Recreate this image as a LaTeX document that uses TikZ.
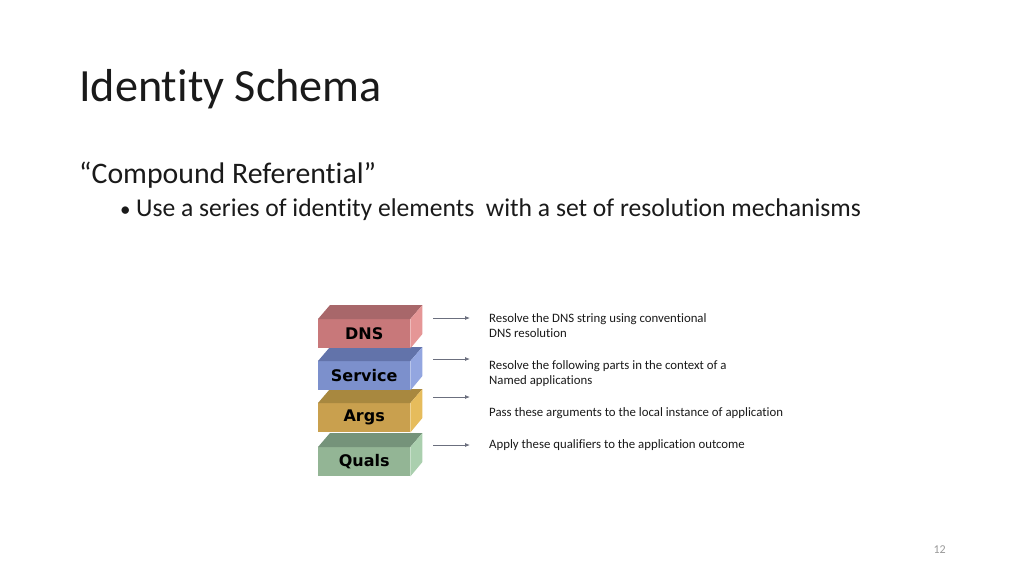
\documentclass[tikz,border=0pt]{standalone}
\usepackage{fontspec}
\setmainfont{Carlito}[Ligatures=NoCommon]
\newfontfamily\lblfont{DejaVu Sans}
\usetikzlibrary{arrows.meta,calc}
\definecolor{dnsF}{HTML}{C8787A}\definecolor{dnsT}{HTML}{A8676A}\definecolor{dnsR}{HTML}{E59696}
\definecolor{srvF}{HTML}{7C90CC}\definecolor{srvT}{HTML}{6273AA}\definecolor{srvR}{HTML}{93A6E0}
\definecolor{argF}{HTML}{C9A04E}\definecolor{argT}{HTML}{A8883F}\definecolor{argR}{HTML}{E6BC5C}
\definecolor{quaF}{HTML}{93B595}\definecolor{quaT}{HTML}{75937A}\definecolor{quaR}{HTML}{AACFAE}
\definecolor{arrc}{HTML}{6B6F7E}
\definecolor{txt}{HTML}{1A1A1A}
\tikzset{
  front/.style={minimum width=92pt,minimum height=29pt,inner sep=0pt,anchor=north west,
    font=\lblfont\bfseries\fontsize{16}{18}\selectfont,text=black},
  desc/.style={anchor=base west,inner sep=0pt,font=\fontsize{12.8}{14}\selectfont,text=txt},
  arr/.style={draw=arrc,line width=0.8pt,-{Latex[length=5pt,width=4pt]}}
}
\newcommand{\blockfaces}[3]{%
  \fill[#2] (#1.north west) -- ++(12,-14) -- ($(#1.north east)+(12,-14)$) -- (#1.north east) -- cycle;
  \fill[#3] (#1.north east) -- ++(12,-14) -- ++(0,29) -- (#1.south east) -- cycle;
}
\begin{document}
\begin{tikzpicture}[x=1pt,y=-1pt]
\useasboundingbox[fill=white] (0,0) rectangle (1024,576);
\node[anchor=base west,inner sep=0pt,font=\fontsize{46.2}{52}\selectfont,text=txt] (title) at (79,101) {Identity Schema};
\node[anchor=base west,inner sep=0pt,font=\fontsize{29.8}{34}\selectfont,text=txt] (sub) at (79,183) {“Compound Referential”};
\node[anchor=base west,inner sep=0pt,font=\fontsize{21}{26}\selectfont,text=txt] (bdot) at (120,216) {\textbullet};
\node[anchor=base west,inner sep=0pt,font=\fontsize{25.6}{30}\selectfont,text=txt] (bul) at (136,216) {Use a series of identity elements\ \ with a set of resolution mechanisms};

% stack, bottom first
\node[front,fill=quaF] (quals) at (318,447) {Quals};
\blockfaces{quals}{quaT}{quaR}
\node[front,fill=argF] (args) at (318,403) {Args};
\blockfaces{args}{argT}{argR}
\node[front,fill=srvF] (service) at (318,361) {Service};
\blockfaces{service}{srvT}{srvR}
\node[front,fill=dnsF] (dns) at (318,319) {DNS};
\blockfaces{dns}{dnsT}{dnsR}

% descriptions
\node[desc] (d1a) at (489,322) {Resolve the DNS string using conventional};
\node[desc] (d1b) at (489,337) {DNS resolution};
\node[desc] (d2a) at (489,369) {Resolve the following parts in the context of a};
\node[desc] (d2b) at (489,384) {Named applications};
\node[desc] (d3) at (489,416) {Pass these arguments to the local instance of application};
\node[desc] (d4) at (489,448) {Apply these qualifiers to the application outcome};

% arrows
\coordinate (a1s) at (433,318); \coordinate (a1e) at (470,318);
\coordinate (a2s) at (433,359); \coordinate (a2e) at (470,359);
\coordinate (a3s) at (433,397); \coordinate (a3e) at (470,397);
\coordinate (a4s) at (433,445); \coordinate (a4e) at (470,445);
\draw[arr] (a1s) -- (a1e);
\draw[arr] (a2s) -- (a2e);
\draw[arr] (a3s) -- (a3e);
\draw[arr] (a4s) -- (a4e);

\node[anchor=base east,inner sep=0pt,font=\fontsize{12}{14}\selectfont,text=gray!80] (pg) at (946,553) {12};
\end{tikzpicture}
\end{document}
